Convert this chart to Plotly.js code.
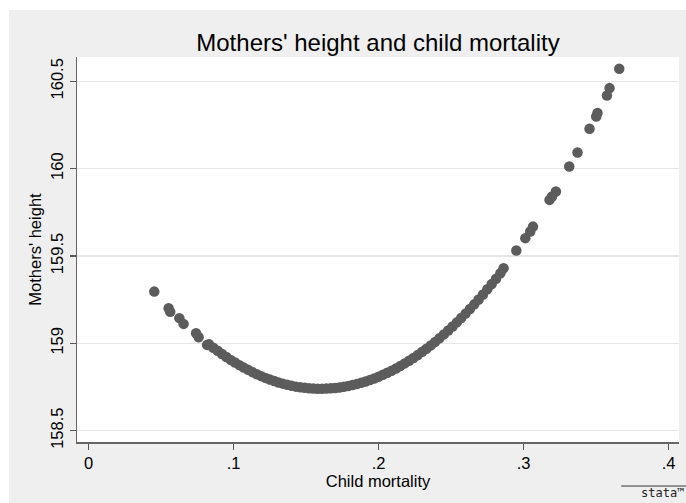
<!DOCTYPE html>
<html>
<head>
<meta charset="utf-8">
<script src="https://cdn.plot.ly/plotly-3.0.1.min.js"></script>
<style>
  html, body { margin: 0; padding: 0; background: #ffffff; width: 686px; height: 503px; overflow: hidden; }
  #chart { position: absolute; left: 9px; top: 10px; width: 677px; height: 493px; }
</style>
</head>
<body>
<div id="chart"></div>
<script>
// Child mortality (x) and mothers' height (y)
const mortality = [
  0.0453, 0.0552, 0.0563, 0.0626, 0.0655, 0.0741, 0.0759, 0.0817,
  0.083, 0.086, 0.089, 0.092, 0.095, 0.098, 0.101, 0.104, 0.107, 0.110,
  0.113, 0.116, 0.119, 0.122, 0.125, 0.128, 0.131, 0.134, 0.137, 0.140,
  0.143, 0.146, 0.149, 0.152, 0.155, 0.158, 0.161, 0.164, 0.167, 0.170,
  0.173, 0.176, 0.179, 0.182, 0.185, 0.188, 0.191, 0.194, 0.197, 0.200,
  0.203, 0.206, 0.209, 0.212, 0.215, 0.218, 0.221, 0.224, 0.227, 0.230,
  0.233, 0.236, 0.239, 0.242, 0.245, 0.248, 0.251, 0.254, 0.257, 0.260,
  0.263, 0.266, 0.269, 0.272, 0.275, 0.278, 0.281, 0.284, 0.2862,
  0.2950, 0.3012, 0.3046, 0.3065, 0.3179, 0.3196, 0.3223, 0.3315, 0.3372,
  0.3455, 0.3501, 0.3510, 0.3575, 0.3593, 0.3660
];
const height = [
  159.296, 159.201, 159.180, 159.144, 159.111, 159.058, 159.035, 158.991,
  158.995, 158.975, 158.957, 158.939, 158.922, 158.905, 158.890, 158.875, 158.861, 158.848,
  158.835, 158.823, 158.812, 158.802, 158.793, 158.784, 158.776, 158.769, 158.763, 158.757,
  158.752, 158.748, 158.745, 158.743, 158.741, 158.740, 158.740, 158.741, 158.742, 158.744,
  158.747, 158.751, 158.756, 158.761, 158.767, 158.774, 158.781, 158.790, 158.799, 158.809,
  158.820, 158.831, 158.843, 158.856, 158.870, 158.885, 158.900, 158.916, 158.933, 158.951,
  158.969, 158.988, 159.008, 159.029, 159.051, 159.073, 159.096, 159.120, 159.145, 159.170,
  159.196, 159.223, 159.251, 159.279, 159.309, 159.339, 159.370, 159.401, 159.430,
  159.531, 159.602, 159.640, 159.668, 159.821, 159.840, 159.869, 160.012, 160.092,
  160.228, 160.298, 160.318, 160.419, 160.461, 160.572
];
const xTicks = [0, 0.1, 0.2, 0.3, 0.4];
const xTickLabels = ['0', '.1', '.2', '.3', '.4'];
const yTicks = [158.5, 159, 159.5, 160, 160.5];
const yTickLabels = ['158.5', '159', '159.5', '160', '160.5'];

const trace = {
  type: 'scatter',
  mode: 'markers',
  x: mortality,
  y: height,
  marker: { color: '#5c5c5c', size: 10.5, line: { width: 0 } },
  hoverinfo: 'x+y'
};

const font = 'Liberation Sans, Arial, sans-serif';

const layout = {
  width: 677,
  height: 493,
  paper_bgcolor: '#efefef',
  plot_bgcolor: '#ffffff',
  margin: { l: 68, r: 7, t: 47, b: 61, pad: 0 },
  showlegend: false,
  font: { family: font, color: '#000000', size: 16.5 },
  title: {
    text: "Mothers' height and child mortality",
    font: { family: font, size: 24, color: '#000000' },
    xref: 'paper', x: 0.5, xanchor: 'center',
    yref: 'container', y: 0.933, yanchor: 'middle'
  },
  xaxis: {
    range: [-0.008, 0.4072],
    tickvals: xTicks,
    ticktext: xTickLabels,
    ticks: 'outside', ticklen: 6, tickwidth: 1.3, tickcolor: '#555555',
    showgrid: false, zeroline: false,
    showline: true, linecolor: '#666666', linewidth: 1.5,
    tickfont: { family: font, size: 16.5, color: '#000000' },
    title: { text: 'Child mortality', font: { family: font, size: 16.5, color: '#000000' }, standoff: 0 }
  },
  yaxis: {
    range: [158.435, 160.639],
    tickvals: yTicks,
    ticktext: yTickLabels,
    tickangle: -90,
    ticks: 'outside', ticklen: 6, tickwidth: 1.3, tickcolor: '#555555',
    showgrid: true, gridcolor: '#e6e6e6', gridwidth: 1.5,
    zeroline: false,
    showline: true, linecolor: '#666666', linewidth: 1.5,
    tickfont: { family: font, size: 16.5, color: '#000000' },
    title: { text: "Mothers' height", font: { family: font, size: 16.5, color: '#000000' }, standoff: 2 }
  },
  shapes: [
    { type: 'line', xref: 'paper', yref: 'paper', x0: 0.904, x1: 1.012, y0: -0.1144, y1: -0.1144,
      line: { color: '#333333', width: 1 } }
  ],
  annotations: [
    { xref: 'paper', yref: 'paper', x: 1.01, y: -0.153, xanchor: 'right', yanchor: 'bottom',
      text: 'stata™', showarrow: false, borderpad: 0,
      font: { family: 'DejaVu Sans Mono, monospace', size: 12, color: '#222222' } }
  ]
};

Plotly.newPlot('chart', [trace], layout, { displayModeBar: false, staticPlot: true });
</script>
</body>
</html>
